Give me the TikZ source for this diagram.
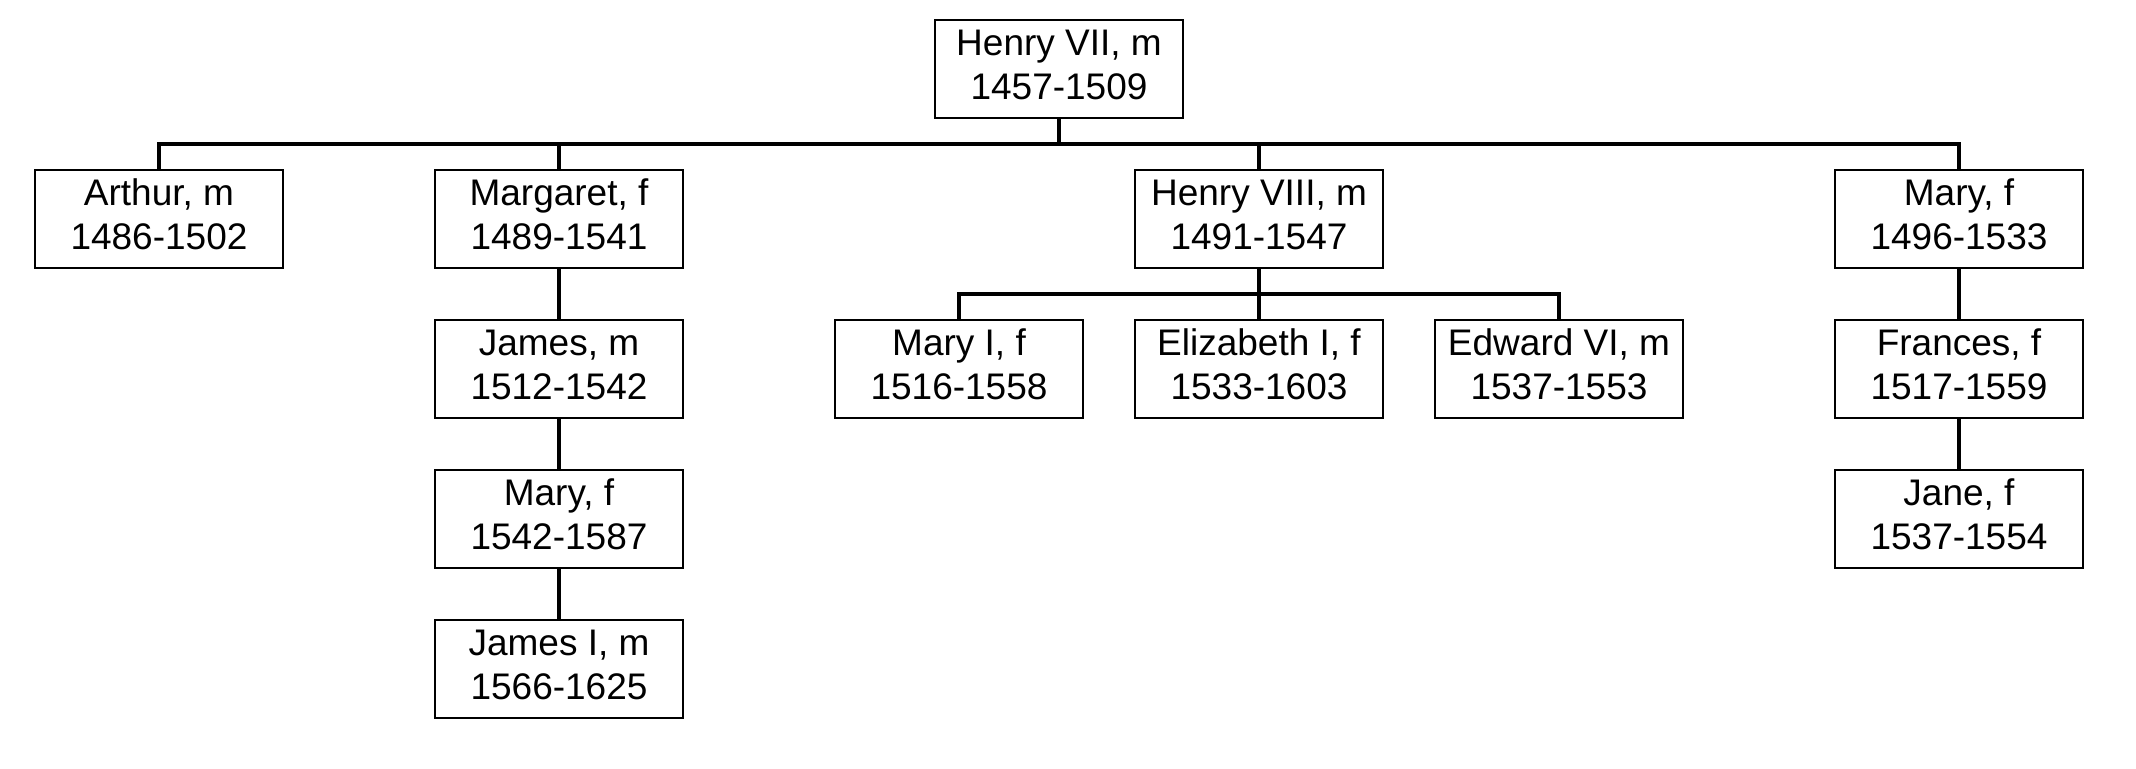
\documentclass[tikz,border=0pt]{standalone}
\usepackage{fontspec}
\setmainfont{Liberation Sans}
\newcommand{\lowstrut}{\rule[-4.2pt]{0pt}{4.2pt}}
\begin{document}
\begin{tikzpicture}[x=0.5pt,y=-0.5pt,
  person/.style={draw=black,line width=1pt,rectangle,inner sep=0pt,
    minimum width=124pt,minimum height=49pt,align=center,
    font=\fontsize{18.5}{22}\selectfont},
  conn/.style={draw=black,line width=2pt,line join=miter}]
\useasboundingbox (0,0) rectangle (2136,768);
\node[person] (hvii) at (1059,68.5) {Henry VII, m\\1457-1509\lowstrut};
\node[person] (arthur) at (159,218.5) {Arthur, m\\1486-1502\lowstrut};
\node[person] (margaret) at (559,218.5) {Margaret, f\\1489-1541\lowstrut};
\node[person] (hviii) at (1259,218.5) {Henry VIII, m\\1491-1547\lowstrut};
\node[person] (maryf) at (1959,218.5) {Mary, f\\1496-1533\lowstrut};
\node[person] (james) at (559,368.5) {James, m\\1512-1542\lowstrut};
\node[person] (maryqs) at (559,518.5) {Mary, f\\1542-1587\lowstrut};
\node[person] (jamesi) at (559,668.5) {James I, m\\1566-1625\lowstrut};
\node[person] (maryi) at (959,368.5) {Mary I, f\\1516-1558\lowstrut};
\node[person] (eliz) at (1259,368.5) {Elizabeth I, f\\1533-1603\lowstrut};
\node[person] (edward) at (1559,368.5) {Edward VI, m\\1537-1553\lowstrut};
\node[person] (frances) at (1959,368.5) {Frances, f\\1517-1559\lowstrut};
\node[person] (jane) at (1959,518.5) {Jane, f\\1537-1554\lowstrut};
\coordinate (bus) at (1059,144);
\coordinate (bus2) at (1259,294);
\draw[conn] (arthur.north) -- (arthur.north |- bus) -- (maryf.north |- bus) -- (maryf.north);
\draw[conn] (hvii.south) -- (hvii.south |- bus);
\draw[conn] (margaret.north) -- (margaret.north |- bus);
\draw[conn] (hviii.north) -- (hviii.north |- bus);
\draw[conn] (maryi.north) -- (maryi.north |- bus2) -- (edward.north |- bus2) -- (edward.north);
\draw[conn] (hviii.south) -- (eliz.north);
\draw[conn] (margaret.south) -- (james.north);
\draw[conn] (james.south) -- (maryqs.north);
\draw[conn] (maryqs.south) -- (jamesi.north);
\draw[conn] (maryf.south) -- (frances.north);
\draw[conn] (frances.south) -- (jane.north);
\end{tikzpicture}
\end{document}
